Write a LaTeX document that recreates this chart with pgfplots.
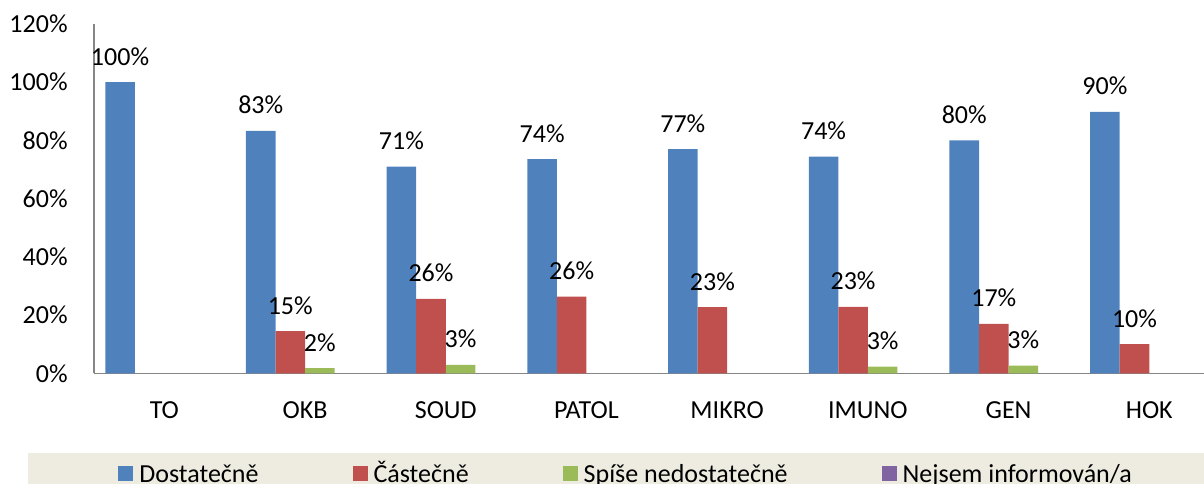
\documentclass[border=0pt]{standalone}
\usepackage{fontspec}
\setmainfont{Carlito}
\usepackage{pgfplots}
\pgfplotsset{compat=1.18}
\definecolor{cblue}{HTML}{4F81BD}
\definecolor{cred}{HTML}{C0504D}
\definecolor{cgreen}{HTML}{9BBB59}
\definecolor{cpurple}{HTML}{8064A2}
\definecolor{legbg}{HTML}{EEECE1}
\definecolor{axgray}{HTML}{868686}
\newcommand{\fsz}{\fontsize{13pt}{15.6pt}\selectfont}
\pgfplotsset{sq legend/.style={legend image code/.code={\fill[##1] (0pt,-3.25pt) rectangle (7.5pt,4.25pt);}}}
\begin{document}
\begin{tikzpicture}[font=\fsz]
\useasboundingbox (0,0) rectangle (602pt,241.5pt);
\fill[legbg] (14pt,-10pt) rectangle (640pt,15pt);
\begin{axis}[
  at={(47pt,54.85pt)}, anchor=south west,
  scale only axis, width=555pt, height=174.65pt,
  xmin=-0.5, xmax=7.389, ymin=0, ymax=120,
  axis lines*=left,
  axis line style={-, draw=axgray, line width=0.75pt},
  major tick length=0pt,
  ybar, bar width=0.21,
  xtick={0,...,7},
  xticklabels={TO,OKB,SOUD,PATOL,MIKRO,IMUNO,GEN,HOK},
  ytick={0,20,...,120},
  yticklabel={\pgfmathprintnumber{\tick}\%},
  /pgf/number format/assume math mode=true,
  tick label style={font=\fsz, text=black},
  yticklabel style={anchor=east, inner sep=0pt, xshift=-13pt},
  xticklabel style={anchor=base, inner sep=0pt, yshift=-22.5pt},
  point meta=explicit symbolic,
  nodes near coords={\pgfplotspointmeta},
  nodes near coords style={anchor=center, inner sep=0pt, yshift=12.85pt, font=\fsz, text=black},
  legend columns=4,
  legend cell align=left,
  legend style={at={(0.02162,-0.28972)}, anchor=west, draw=none, fill=none, inner sep=0pt,
    nodes={inner sep=0pt, text height=8.4pt, text depth=0pt, font=\fsz},
    /tikz/every odd column/.append style={column sep=3pt},
    /tikz/every even column/.append style={column sep=47pt}},
]
\addplot[fill=cblue, draw=none, bar shift=-0.315, sq legend] coordinates {
  (0,100) [100\%] (1,83.3) [83\%] (2,71.0) [71\%] (3,73.6) [74\%]
  (4,77.0) [77\%] (5,74.4) [74\%] (6,80.0) [80\%] (7,89.8) [90\%]};
\addlegendentry{Dostatečně}
\addplot[fill=cred, draw=none, bar shift=-0.105, sq legend] coordinates {
  (1,14.5) [15\%] (2,25.6) [26\%] (3,26.3) [26\%]
  (4,22.7) [23\%] (5,22.8) [23\%] (6,17.0) [17\%] (7,10.0) [10\%]};
\addlegendentry{Částečně}
\addplot[fill=cgreen, draw=none, bar shift=0.105, sq legend] coordinates {
  (1,1.8) [2\%] (2,2.9) [3\%] (5,2.3) [3\%] (6,2.6) [3\%]};
\addlegendentry{Spíše nedostatečně}
\addlegendimage{fill=cpurple, draw=none, sq legend}
\addlegendentry{Nejsem informován/a}
\end{axis}
\end{tikzpicture}
\end{document}
